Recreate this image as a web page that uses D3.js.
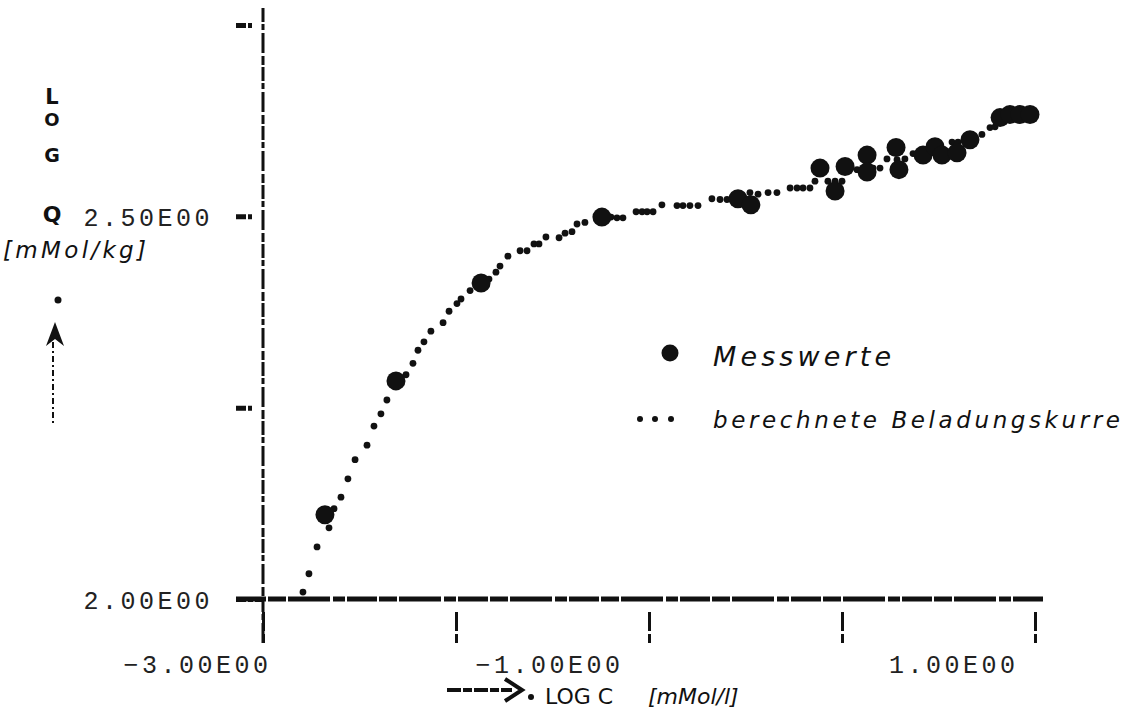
<!DOCTYPE html>
<html>
<head>
<meta charset="utf-8">
<script src="https://cdn.jsdelivr.net/npm/d3@7"></script>
<style>
  html, body { margin: 0; padding: 0; background: #fff; }
  svg { display: block; }
</style>
</head>
<body>
<svg id="chart" width="1134" height="712"></svg>
<script>
// ---------- data ----------
const xTicks = [-3, -2, -1, 0, 1];
const xTickLabels = ["\u22123.00E00", "", "\u22121.00E00", "", "1.00E00"];
const yTicks = [2.0, 2.25, 2.5, 2.75];
const yTickLabels = ["2.00E00", "", "2.50E00", ""];

// Messwerte (measured), log C vs log Q
const measuredX = [-2.679, -2.311, -1.870, -1.244, -0.539, -0.472, -0.114, -0.036, 0.016, 0.130, 0.130,
                   0.280, 0.295, 0.420, 0.482, 0.518, 0.596, 0.663, 0.819, 0.870, 0.922, 0.974];
const measuredY = [2.110, 2.285, 2.413, 2.499, 2.523, 2.515, 2.563, 2.533, 2.565, 2.580, 2.558,
                   2.590, 2.561, 2.580, 2.591, 2.580, 2.583, 2.600, 2.629, 2.633, 2.633, 2.633];

// berechnete Beladungskurve (computed curve)
const curveX = [-2.793, -2.762, -2.720, -2.658, -2.632, -2.596, -2.560, -2.523, -2.461, -2.425,
                -2.389, -2.358, -2.259, -2.223, -2.197, -2.166, -2.130, -2.067, -2.036, -1.995,
                -1.974, -1.927, -1.829, -1.793, -1.772, -1.731, -1.668, -1.632, -1.596, -1.570,
                -1.534, -1.466, -1.435, -1.399, -1.373, -1.332, -1.197, -1.166, -1.135, -1.067,
                -1.036, -1.010, -0.979, -0.933, -0.855, -0.824, -0.788, -0.746, -0.674, -0.632,
                -0.596, -0.477, -0.435, -0.383, -0.337, -0.269, -0.233, -0.202, -0.166, -0.140,
                -0.073, -0.036, 0.000, 0.078, 0.161, 0.197, 0.233, 0.285, 0.326, 0.368,
                0.404, 0.570, 0.601, 0.725, 0.767, 0.793];
const curveY = [2.009, 2.033, 2.068, 2.093, 2.118, 2.133, 2.157, 2.182, 2.201, 2.226,
                2.242, 2.260, 2.293, 2.308, 2.325, 2.336, 2.350, 2.361, 2.376, 2.386,
                2.392, 2.403, 2.418, 2.427, 2.435, 2.448, 2.455, 2.455, 2.464, 2.464,
                2.473, 2.472, 2.478, 2.480, 2.490, 2.492, 2.499, 2.498, 2.498, 2.506,
                2.506, 2.506, 2.506, 2.515, 2.514, 2.514, 2.514, 2.514, 2.523, 2.522,
                2.522, 2.531, 2.529, 2.531, 2.531, 2.537, 2.537, 2.537, 2.537, 2.546,
                2.546, 2.546, 2.546, 2.561, 2.563, 2.563, 2.575, 2.574, 2.575, 2.582,
                2.582, 2.597, 2.597, 2.607, 2.616, 2.617];

const legendLabels = ["Messwerte", "berechnete  Beladungskurre"];

// ---------- drawing ----------
const svg = d3.select("#chart");
const x = d3.scaleLinear().domain([-3, 1]).range([263, 1035]);
const y = d3.scaleLinear().domain([2, 2.75]).range([599, 25]);
const ink = "#111";
const labelFont = "'Liberation Mono', 'DejaVu Sans Mono', monospace";
const handFont = "'DejaVu Sans', sans-serif";

// x axis (bottom ticks)
const xAxis = d3.axisBottom(x).tickValues(xTicks).tickSize(0)
  .tickFormat((d, i) => xTickLabels[i]);
const gx = svg.append("g").attr("transform", "translate(0,599)").call(xAxis);
gx.select(".domain").remove();
gx.selectAll(".tick text")
  .attr("font-family", labelFont).attr("font-size", 25)
  .attr("letter-spacing", 3.5).attr("fill", "#222")
  .attr("text-anchor", "end")
  .attr("y", 74).attr("dy", 0)
  .attr("dx", (d, i) => [8, 0, -26, 0, -17][i]);
gx.selectAll(".tick").append("line")
  .attr("x1", 0).attr("x2", 0).attr("y1", 13).attr("y2", 44)
  .attr("stroke", ink).attr("stroke-width", 3)
  .attr("stroke-dasharray", "19,3,9");

// y axis (left ticks)
const yAxis = d3.axisLeft(y).tickValues(yTicks).tickSize(0)
  .tickFormat((d, i) => yTickLabels[i]);
const gy = svg.append("g").attr("transform", "translate(263,0)").call(yAxis);
gy.select(".domain").remove();
gy.selectAll(".tick text")
  .attr("font-family", labelFont).attr("font-size", 25)
  .attr("letter-spacing", 3.5).attr("fill", "#222")
  .attr("text-anchor", "end")
  .attr("x", -50).attr("dy", "0.36em");
gy.selectAll(".tick").append("line")
  .attr("x1", -27).attr("x2", (d) => d === 2 ? 0 : -11)
  .attr("stroke", ink).attr("stroke-width", 5)
  .attr("stroke-dasharray", "10,2,5,2");

// main axis lines
svg.append("line")
  .attr("x1", x(-3) - 27).attr("x2", x(1) + 10)
  .attr("y1", y(2)).attr("y2", y(2))
  .attr("stroke", ink).attr("stroke-width", 5)
  .attr("stroke-dasharray", "30,2,18,2,42,3,12,2");
svg.append("line")
  .attr("x1", x(-3)).attr("x2", x(-3))
  .attr("y1", y(2.75) - 17).attr("y2", y(2) + 46)
  .attr("stroke", ink).attr("stroke-width", 3)
  .attr("stroke-dasharray", "14,2,6,3,20,3,9,2");

// computed curve dots
svg.append("g").selectAll("circle")
  .data(d3.zip(curveX, curveY)).join("circle")
  .attr("cx", d => x(d[0])).attr("cy", d => y(d[1]))
  .attr("r", 3.4).attr("fill", ink);

// measured points
svg.append("g").selectAll("circle")
  .data(d3.zip(measuredX, measuredY)).join("circle")
  .attr("cx", d => x(d[0])).attr("cy", d => y(d[1]))
  .attr("r", 9.5).attr("fill", ink);

// y axis title
const yt = svg.append("g").attr("font-family", "'DejaVu Sans', sans-serif")
  .attr("font-weight", "bold").attr("fill", ink).attr("text-anchor", "middle");
yt.append("text").attr("x", 52).attr("y", 104).attr("font-size", 21).text("L");
yt.append("text").attr("x", 52).attr("y", 126).attr("font-size", 18).text("O");
yt.append("text").attr("x", 52).attr("y", 162).attr("font-size", 19).text("G");
yt.append("text").attr("x", 52).attr("y", 222).attr("font-size", 22).text("Q");
svg.append("text").attr("x", 3).attr("y", 258)
  .attr("font-family", handFont).attr("font-style", "italic")
  .attr("font-size", 23).attr("fill", ink)
  .attr("textLength", 143).attr("lengthAdjust", "spacing").text("[mMol/kg]");
svg.append("circle").attr("cx", 58).attr("cy", 300).attr("r", 3.5).attr("fill", ink);
svg.append("path").attr("d", "M55,322 L46,346 L55,339 L64,346 Z").attr("fill", ink);
svg.append("line").attr("x1", 53).attr("x2", 53).attr("y1", 342).attr("y2", 423)
  .attr("stroke", ink).attr("stroke-width", 2).attr("stroke-dasharray", "6,3,2,3");

// x axis title
svg.append("line").attr("x1", 447).attr("x2", 512).attr("y1", 690).attr("y2", 690)
  .attr("stroke", ink).attr("stroke-width", 4).attr("stroke-dasharray", "14,2,9,2");
svg.append("path").attr("d", "M505,679 L522,690 L505,701")
  .attr("fill", "none").attr("stroke", ink).attr("stroke-width", 4);
svg.append("circle").attr("cx", 531).attr("cy", 697).attr("r", 3).attr("fill", ink);
svg.append("text").attr("x", 545).attr("y", 704)
  .attr("font-family", handFont).attr("font-size", 22).attr("fill", ink)
  .attr("textLength", 68).attr("lengthAdjust", "spacing").text("LOG  C");
svg.append("text").attr("x", 648).attr("y", 704)
  .attr("font-family", handFont).attr("font-style", "italic")
  .attr("font-size", 22).attr("fill", ink).text("[mMol/l]");

// legend
const lg = svg.append("g");
lg.append("circle").attr("cx", 670).attr("cy", 353).attr("r", 8.5).attr("fill", ink);
lg.selectAll("circle.ld").data([640, 655, 671]).join("circle").attr("class", "ld")
  .attr("cx", d => d).attr("cy", 419).attr("r", 3).attr("fill", ink);
lg.append("text").attr("x", 713).attr("y", 366)
  .attr("font-family", handFont).attr("font-style", "italic")
  .attr("font-size", 27).attr("fill", ink)
  .attr("textLength", 178).attr("lengthAdjust", "spacing").text(legendLabels[0]);
lg.append("text").attr("x", 713).attr("y", 428)
  .attr("font-family", handFont).attr("font-style", "italic")
  .attr("font-size", 23).attr("fill", ink)
  .attr("textLength", 407).attr("lengthAdjust", "spacing").text(legendLabels[1]);
</script>
</body>
</html>
